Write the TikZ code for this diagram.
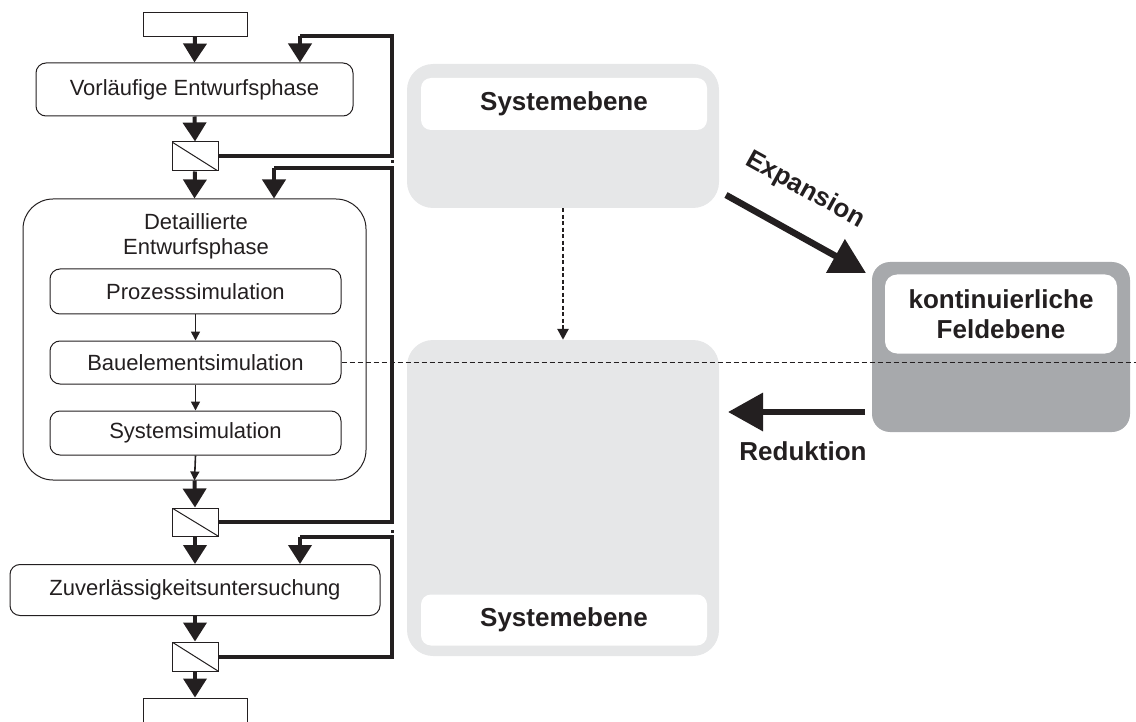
\documentclass[tikz,border=0pt]{standalone}
\usepackage{fontspec}
\setmainfont{Liberation Sans}
\usetikzlibrary{arrows.meta,calc}
\definecolor{ink}{HTML}{231F20}
\definecolor{lightgrey}{HTML}{E6E7E8}
\definecolor{midgrey}{HTML}{A7A9AC}

\tikzset{
  txt/.style={font=\fontsize{22}{25}\selectfont, text=ink},
  boldtxt/.style={font=\fontsize{26}{30}\selectfont\bfseries, text=ink},
  proc/.style={txt, draw=ink, line width=1pt, rounded corners=10pt, inner sep=0pt},
  plainbox/.style={draw=ink, line width=1pt, inner sep=0pt},
  decision/.style={draw=ink, line width=1pt, fill=white, inner sep=0pt,
    minimum width=46pt, minimum height=29pt,
    path picture={\draw[ink, line width=1pt]
      (path picture bounding box.north west) -- (path picture bounding box.south east);}},
  flow/.style={draw=ink, line width=4pt, -{Triangle[length=19pt,width=23pt]}},
  loop/.style={draw=ink, line width=4pt},
  thinflow/.style={draw=ink, line width=1.6pt, -{Triangle[length=9pt,width=9pt]}},
  level/.style={fill=lightgrey, rounded corners=26pt, inner sep=0pt, minimum width=312pt},
  field/.style={fill=midgrey, rounded corners=18pt, inner sep=0pt},
  label/.style={boldtxt, fill=white, rounded corners=10pt, inner sep=0pt, align=center},
  bigarrow/.style={draw=ink, line width=6.5pt, -{Triangle[length=35pt,width=37pt]}},
  gapdot/.style={fill=ink},
}

\begin{document}
\begin{tikzpicture}[x=1pt, y=-1pt]
\useasboundingbox (0,0) rectangle (1136,722);

% ---------- design flow (left) ----------
\node[plainbox, minimum width=104pt, minimum height=24pt] (start) at (195,24.5) {};
\node[proc, minimum width=317pt, minimum height=53pt] (vor) at (194.5,89.5) {Vorläufige Entwurfsphase};
\node[decision] (d1) at (195,156.5) {};

\node[draw=ink, line width=1pt, rounded corners=30pt, inner sep=0pt,
      minimum width=343pt, minimum height=281pt] (det) at (194.5,339.5) {};
\node[txt, align=center] (dettitle) at (196,236) {Detaillierte\\Entwurfsphase};
\node[proc, minimum width=291pt, minimum height=45pt] (proz) at (195.5,291.5) {Prozesssimulation};
\node[proc, minimum width=291pt, minimum height=43pt] (bau) at (195.5,362.5) {Bauelementsimulation};
\node[proc, minimum width=291pt, minimum height=44pt] (sys) at (195.5,433) {Systemsimulation};

\node[decision, minimum height=28pt] (d2) at (195,522) {};
\node[proc, minimum width=370pt, minimum height=51pt] (zuv) at (195,590) {Zuverlässigkeitsuntersuchung};
\node[decision] (d3) at (195,656.5) {};
\node[plainbox, minimum width=104pt, minimum height=40pt] (end) at (195,718) {};

% main flow
\draw[flow] (start.south) -- (vor.north);
\draw[flow] (vor.south) -- (d1.north);
\draw[flow] (d1.south) -- (det.north);
\draw[thinflow] (proz.south) -- (bau.north);
\draw[thinflow] (bau.south) -- (sys.north);
\draw[thinflow] (sys.south) -- (det.south);
\draw[flow] (det.south) -- (d2.north);
\draw[flow] (d2.south) -- (zuv.north);
\draw[flow] (zuv.south) -- (d3.north);
\draw[flow] (d3.south) -- (end.north);

% feedback loops
\coordinate (fb1) at (392,36);
\coordinate (fb2) at (392,168);
\coordinate (fb3) at (392,537);
\coordinate (in1) at (300,0);
\coordinate (in2) at (274,0);
\draw[loop] (d1.east) -| (fb1) -- (fb1 -| in1);
\draw[flow] (fb1 -| in1) -- (vor.north -| in1);
\draw[loop] (d2.east) -| (fb2) -- (fb2 -| in2);
\draw[flow] (fb2 -| in2) -- (det.north -| in2);
\draw[loop] (d3.east) -| (fb3) -- (fb3 -| in1);
\draw[flow] (fb3 -| in1) -- (zuv.north -| in1);
\fill[gapdot] (390.5,160.5) rectangle (393.5,163.5);
\fill[gapdot] (390.5,529.5) rectangle (393.5,532.5);

% ---------- modelling levels (right) ----------
\node[level, minimum height=144pt] (sysTop) at (563,136) {};
\node[label, minimum width=286pt, minimum height=52pt] (sysTopLbl) at (564,104) {Systemebene};
\node[level, minimum height=316pt] (sysBot) at (563,498) {};
\node[label, minimum width=286pt, minimum height=51pt] (sysBotLbl) at (564,620) {Systemebene};

\node[field, minimum width=258pt, minimum height=170pt] (feld) at (1001,347) {};
\node[label, rounded corners=12pt, minimum width=232pt, minimum height=79pt] (feldLbl) at (1001,314)
  {kontinuierliche\\Feldebene};

\draw[ink, line width=2.6pt, dash pattern=on 4pt off 2.5pt, -{Triangle[length=11pt,width=11pt]}]
  (sysTop.south) -- (sysBot.north);

% expansion / reduction
\coordinate (expA) at (726,195);
\coordinate (expB) at (866,273);
\draw[bigarrow] (expA) -- (expB);
\node[boldtxt, rotate=-29] (expLbl) at (805,190) {Expansion};

\coordinate (redA) at (865,412);
\coordinate (redB) at (728,412);
\draw[bigarrow] (redA) -- (redB);
\node[boldtxt] (redLbl) at (803,451) {Reduktion};

% level boundary
\coordinate (edge) at (1136,0);
\draw[ink, line width=1.2pt, dash pattern=on 5pt off 3pt] (bau.east) -- (bau.east -| edge);
\end{tikzpicture}
\end{document}
